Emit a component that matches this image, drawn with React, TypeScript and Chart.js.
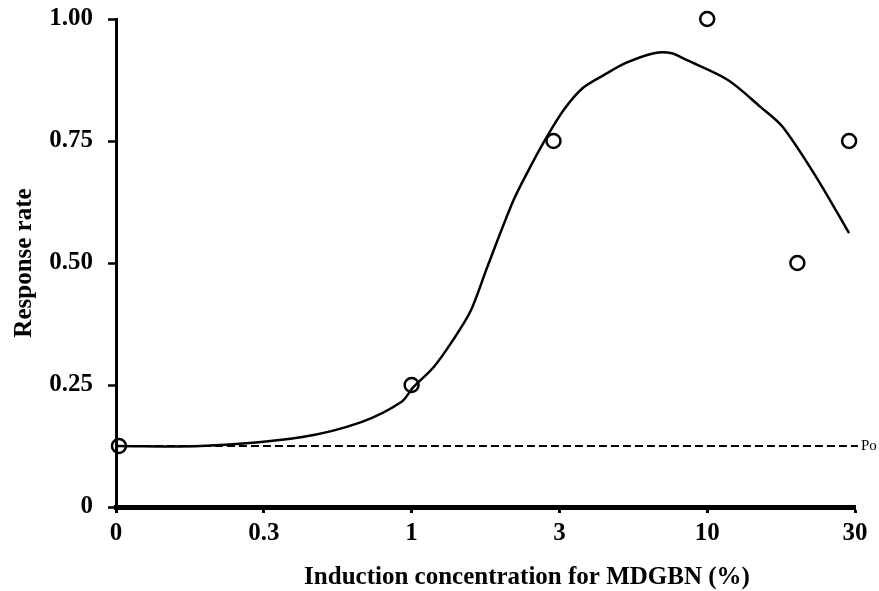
import React, { useEffect, useRef } from "react";
import { Chart, registerables } from "chart.js";

Chart.register(...registerables);

// x positions are axis positions (evenly spaced tick slots: 0, 0.3, 1, 3, 10, 30)
const xTickLabels = ["0", "0.3", "1", "3", "10", "30"];
const yTickValues = [0, 0.25, 0.5, 0.75, 1];
const yTickLabels = ["0", "0.25", "0.50", "0.75", "1.00"];

const observedX = [0.02, 2.0, 2.96, 4.0, 4.61, 4.96];
const observedY = [0.125, 0.25, 0.75, 1.0, 0.5, 0.75];

const fitX = [0, 0.57, 1.25, 1.66, 1.93, 2.01, 2.15, 2.28, 2.4, 2.51, 2.69, 2.81, 2.91, 3.03, 3.16, 3.3, 3.45, 3.64, 3.76, 3.86, 4.14, 4.36, 4.51, 4.75, 4.96];
const fitY = [0.125, 0.125, 0.143, 0.174, 0.215, 0.245, 0.287, 0.342, 0.402, 0.49, 0.629, 0.701, 0.756, 0.814, 0.859, 0.885, 0.91, 0.93, 0.93, 0.916, 0.875, 0.82, 0.779, 0.67, 0.561];

const poValue = 0.125;
const poX = [0.02, 5.02];
const poLabel = "Po";

const xTitle = "Induction concentration for MDGBN (%)";
const yTitle = "Response rate";

const FONT = "'Liberation Serif', 'Times New Roman', serif";

export default function App() {
  const ref = useRef<HTMLCanvasElement | null>(null);

  useEffect(() => {
    if (!ref.current) return;
    const textPlugin = {
      id: "extraText",
      afterDraw(chart: any) {
        const { ctx, scales } = chart;
        const x = scales.x.getPixelForValue(poX[1]);
        const y = scales.y.getPixelForValue(poValue);
        ctx.save();
        ctx.fillStyle = "#000";
        ctx.font = `15px ${FONT}`;
        ctx.textAlign = "left";
        ctx.textBaseline = "middle";
        ctx.fillText(poLabel, x + 3, y);
        ctx.font = `bold 25px ${FONT}`;
        ctx.textAlign = "center";
        ctx.fillText(xTitle, 527, 578);
        ctx.restore();
      },
    };
    const chart = new Chart(ref.current, {
      type: "scatter",
      data: {
        datasets: [
          {
            label: "Po",
            data: poX.map((x) => ({ x, y: poValue })),
            showLine: true,
            borderColor: "#000",
            borderWidth: 2,
            borderDash: [8, 4],
            pointRadius: 0,
            clip: false as any,
          },
          {
            label: "fit",
            data: fitX.map((x, i) => ({ x, y: fitY[i] })),
            showLine: true,
            borderColor: "#000",
            borderWidth: 2.5,
            tension: 0.3,
            pointRadius: 0,
            clip: false as any,
          },
          {
            label: "observed",
            data: observedX.map((x, i) => ({ x, y: observedY[i] })),
            showLine: false,
            pointRadius: 7,
            pointBorderWidth: 2.5,
            pointBorderColor: "#000",
            pointBackgroundColor: "rgba(0,0,0,0)",
            clip: false as any,
          },
        ],
      },
      options: {
        responsive: false,
        animation: false,
        layout: { padding: { top: 19, right: 24, left: 0, bottom: 0 } },
        plugins: { legend: { display: false }, tooltip: { enabled: false } },
        scales: {
          x: {
            type: "linear",
            min: 0,
            max: 5,
            afterFit: (s: any) => {
              s.height = 84;
              s.paddingLeft = 0;
              s.paddingRight = 0;
            },
            afterBuildTicks: (s: any) => {
              s.ticks = xTickLabels.map((_, i) => ({ value: i }));
            },
            border: { display: true, color: "#000", width: 5 },
            grid: { display: true, drawOnChartArea: false, drawTicks: true, tickLength: 6, tickWidth: 3, tickColor: "#000" },
            ticks: {
              color: "#000",
              padding: 6,
              maxRotation: 0,
              font: { family: FONT, size: 25, weight: "bold" },
              callback: (v: any) => xTickLabels[Math.round(Number(v))] ?? "",
            },
            title: { display: false },
          },
          y: {
            type: "linear",
            min: 0,
            max: 1,
            afterFit: (s: any) => {
              s.width = 116;
              s.paddingTop = 0;
              s.paddingBottom = 0;
            },
            afterBuildTicks: (s: any) => {
              s.ticks = yTickValues.map((value) => ({ value }));
            },
            border: { display: true, color: "#000", width: 3 },
            grid: { display: true, drawOnChartArea: false, drawTicks: true, tickLength: 8, tickWidth: 2.5, tickColor: "#000" },
            ticks: {
              color: "#000",
              padding: 15,
              font: { family: FONT, size: 25, weight: "bold" },
              callback: (v: any) => {
                const i = yTickValues.indexOf(Number(v));
                return i >= 0 ? yTickLabels[i] : String(v);
              },
            },
            title: {
              display: true,
              text: yTitle,
              color: "#000",
              font: { family: FONT, size: 25, weight: "bold" },
              padding: { top: 10, bottom: 0 },
            },
          },
        },
      },
      plugins: [textPlugin],
    } as any);
    return () => chart.destroy();
  }, []);

  return (
    <canvas
      ref={ref}
      width={879}
      height={591}
      style={{ position: "absolute", left: 0, top: 0, width: 879, height: 591, background: "#fff" }}
    />
  );
}
